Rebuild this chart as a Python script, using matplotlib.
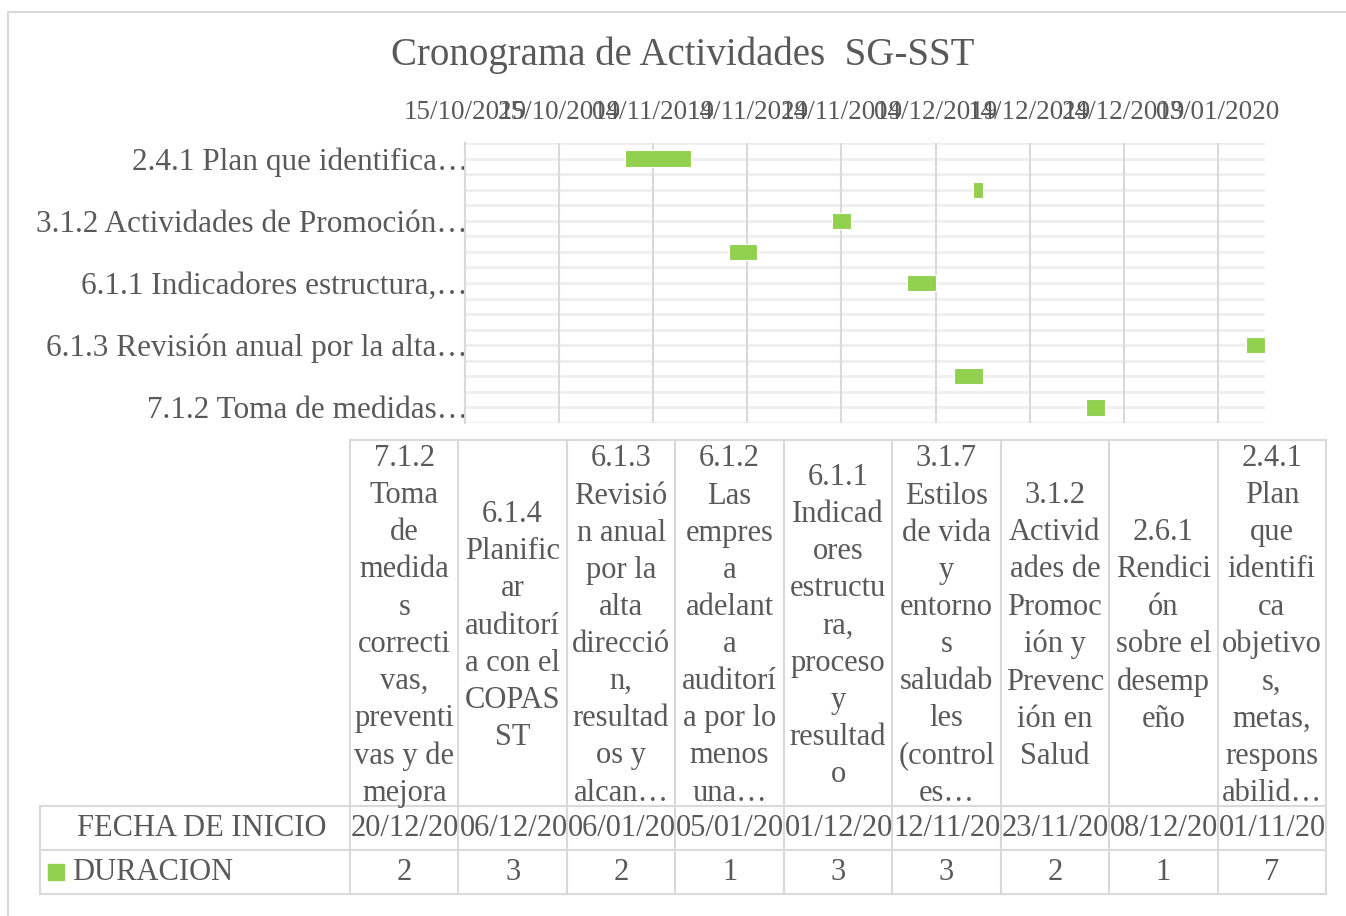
import datetime as dt
import matplotlib
matplotlib.use("Agg")
import matplotlib.pyplot as plt
import matplotlib.dates as mdates
from matplotlib.patches import Rectangle
from matplotlib.transforms import Bbox, TransformedBbox

# data, in table order (left to right = bottom to top of the gantt)
codigos = ["7.1.2", "6.1.4", "6.1.3", "6.1.2", "6.1.1", "3.1.7", "3.1.2", "2.6.1", "2.4.1"]
etiquetas_eje = ["7.1.2 Toma de medidas…", "6.1.4 Planificar auditoría…",
                 "6.1.3 Revisión anual por la alta…", "6.1.2 Las empresa adelanta…",
                 "6.1.1 Indicadores estructura,…", "3.1.7 Estilos de vida y…",
                 "3.1.2 Actividades de Promoción…", "2.6.1 Rendición sobre el…",
                 "2.4.1 Plan que identifica…"]
cabeceras = [
    "7.1.2\nToma\nde\nmedida\ns\ncorrecti\nvas,\npreventi\nvas y de\nmejora",
    "6.1.4\nPlanific\nar\nauditorí\na con el\nCOPAS\nST",
    "6.1.3\nRevisió\nn anual\npor la\nalta\ndirecció\nn,\nresultad\nos y\nalcan…",
    "6.1.2\nLas\nempres\na\nadelant\na\nauditorí\na por lo\nmenos\nuna…",
    "6.1.1\nIndicad\nores\nestructu\nra,\nproceso\ny\nresultad\no",
    "3.1.7\nEstilos\nde vida\ny\nentorno\ns\nsaludab\nles\n(control\nes…",
    "3.1.2\nActivid\nades de\nPromoc\nión y\nPrevenc\nión en\nSalud",
    "2.6.1\nRendici\nón\nsobre el\ndesemp\neño",
    "2.4.1\nPlan\nque\nidentifi\nca\nobjetivo\ns,\nmetas,\nrespons\nabilid…",
]
fecha_inicio = ["20/12/2019", "06/12/2019", "06/01/2020", "05/01/2021", "01/12/2019",
                "12/11/2019", "23/11/2019", "08/12/2019", "01/11/2019"]
duracion = [2, 3, 2, 1, 3, 3, 2, 1, 7]

eje_min = "15/10/2019"
eje_max = "08/01/2020"
paso_dias = 10

GRIS = "#595959"
LINEA = "#d9d9d9"
VERDE = "#92D050"
plt.rcParams["font.family"] = ["Liberation Serif", "DejaVu Serif"]
FS_TAB = 22

W, H = 1346, 916
fig = plt.figure(figsize=(W / 100, H / 100), dpi=100)

def d(s):
    return mdates.date2num(dt.datetime.strptime(s, "%d/%m/%Y"))

# outer chart border
fig.patches.append(Rectangle((8 / W, -0.1), 1.2, 1.1 - 12 / H, transform=fig.transFigure,
                             fill=False, edgecolor=LINEA, lw=1.5))

fig.text(683 / W, 1 - 55 / H, "Cronograma de Actividades  SG-SST", ha="center", va="center",
         fontsize=28, color=GRIS)

# gantt
ax = fig.add_axes([465 / W, 1 - 423 / H, 800 / W, 280 / H])
y = list(range(len(codigos)))
inicios = [d(s) for s in fecha_inicio]
ax.barh(y, duracion, left=inicios, height=0.52, color=VERDE, edgecolor="white", lw=0.8, zorder=3)

x0, x1 = d(eje_min), d(eje_max)
ax.set_xlim(x0, x1)
ax.set_ylim(-0.5, len(codigos) - 0.5)
ticks = [x0 + k * paso_dias for k in range(int((x1 - x0) // paso_dias) + 1)]
ax.set_xticks(ticks)
ax.xaxis.set_major_formatter(mdates.DateFormatter("%d/%m/%Y"))
ax.xaxis.tick_top()
ax.tick_params(axis="x", length=0, pad=13, labelsize=19.5, labelcolor=GRIS)
ax.set_yticks(y[::2])
ax.set_yticklabels(etiquetas_eje[::2])
ax.tick_params(axis="y", length=0, pad=-2, labelsize=22.5, labelcolor=GRIS)

for t in ticks:
    ax.axvline(t, color=LINEA, lw=1.5, zorder=1)
k = -0.5
while k <= len(codigos) - 0.5:
    ax.axhline(k, color="#efefef", lw=2, zorder=0)
    k += 0.5
for s in ["top", "right", "bottom"]:
    ax.spines[s].set_visible(False)
ax.spines["left"].set_color(LINEA)
ax.spines["left"].set_linewidth(1.5)

# data table
tab = fig.add_axes([0, 0, 1, 1])
tab.set_xlim(0, W)
tab.set_ylim(H, 0)
tab.axis("off")
izq, col0, der = 40, 350, 1326
filas = [440, 806, 850, 894]
n = len(codigos)
ancho = (der - col0) / n
bordes = [col0 + i * ancho for i in range(n + 1)]

kw = dict(color=LINEA, lw=1.5)
tab.plot([col0, der], [filas[0], filas[0]], **kw)
for f in filas[1:]:
    tab.plot([izq, der], [f, f], **kw)
for b in bordes:
    tab.plot([b, b], [filas[0], filas[3]], **kw)
tab.plot([izq, izq], [filas[1], filas[3]], **kw)

for i in range(n):
    cx = (bordes[i] + bordes[i + 1]) / 2
    tab.text(cx, (filas[0] + filas[1]) / 2 + 3, cabeceras[i], ha="center", va="center",
             fontsize=FS_TAB, color=GRIS, linespacing=1.37)
    t = tab.text(bordes[i] + 1, (filas[1] + filas[2]) / 2 + 1, fecha_inicio[i], ha="left",
                 va="center", fontsize=FS_TAB, color=GRIS, clip_on=True)
    t.set_clip_box(TransformedBbox(Bbox([[bordes[i], filas[1]], [bordes[i + 1], filas[2]]]),
                                   tab.transData))
    tab.text(cx, (filas[2] + filas[3]) / 2 + 1, str(duracion[i]), ha="center", va="center",
             fontsize=FS_TAB, color=GRIS)

tab.text((izq + col0) / 2 + 7, (filas[1] + filas[2]) / 2 + 1, "FECHA DE INICIO", ha="center",
         va="center", fontsize=FS_TAB, color=GRIS)
tab.add_patch(Rectangle((48, 864), 16, 16, color=VERDE))
tab.text(72, (filas[2] + filas[3]) / 2 + 1, "DURACION", ha="left", va="center",
         fontsize=FS_TAB, color=GRIS)

fig.savefig("out.png", dpi=100, facecolor="white")
